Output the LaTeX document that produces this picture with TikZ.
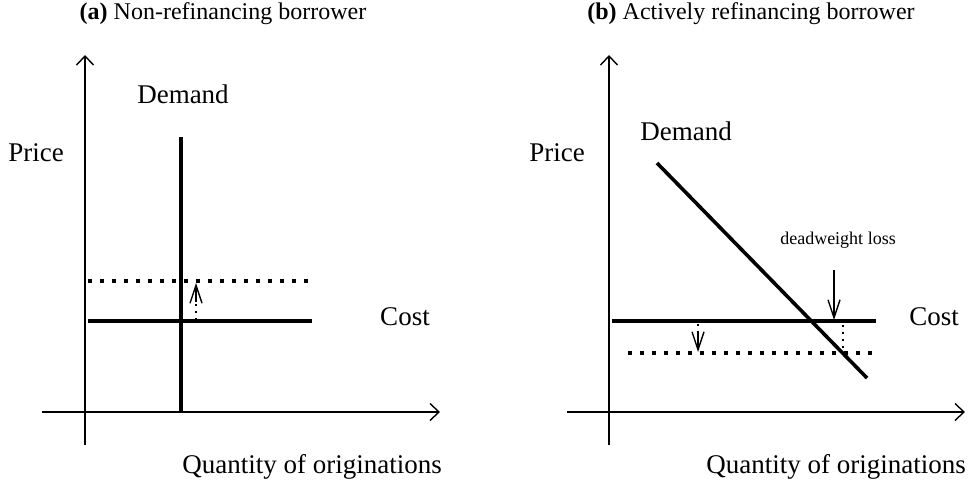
\documentclass[tikz,border=0pt]{standalone}
\usepackage{fontspec}
\setmainfont{Liberation Serif}
\usetikzlibrary{arrows.meta}
\begin{document}
\begin{tikzpicture}[x=1pt,y=-1pt,
  axis/.style={line width=1.4pt,-{Straight Barb[length=9pt,width=17pt,line width=1.4pt]}},
  curve/.style={line width=3.6pt},
  dotline/.style={line width=3.4pt,dash pattern=on 4pt off 8pt},
  shaft/.style={line width=1.6pt,dash pattern=on 2pt off 5pt},
  tipline/.style={line width=1.4pt,-{Straight Barb[length=18pt,width=12pt,line width=1.4pt]}},
  lab/.style={font=\fontsize{27}{30}\selectfont,inner sep=0pt},
  ttl/.style={font=\fontsize{24}{28}\selectfont,inner sep=0pt},
  small/.style={font=\fontsize{18}{21}\selectfont,inner sep=0pt}]
\useasboundingbox (0,0) rectangle (976,491);
% ---- panel (a)
\node[ttl] (ta) at (223,14) {\textbf{(a)} Non-refinancing borrower};
\coordinate (ay0) at (85,445); \coordinate (ay1) at (85,55);
\coordinate (ax0) at (42,412); \coordinate (ax1) at (440,412);
\draw[axis] (ay0) -- (ay1);
\draw[axis] (ax0) -- (ax1);
\coordinate (ad0) at (181,412); \coordinate (ad1) at (181,137);
\draw[curve] (ad0) -- (ad1);
\coordinate (ac0) at (88,321); \coordinate (ac1) at (312,321);
\draw[curve] (ac0) -- (ac1);
\coordinate (an0) at (88,281); \coordinate (an1) at (312,281);
\draw[dotline] (an0) -- (an1);
\coordinate (aa0) at (196,320); \coordinate (aa1) at (196,302); \coordinate (aa2) at (196,283);
\draw[shaft] (aa0) -- (aa1);
\draw[tipline] (aa1) -- (aa2);
\node[lab] (dema) at (183,94) {Demand};
\node[lab] (pra) at (36,153) {Price};
\node[lab] (costa) at (405,317) {Cost};
\node[lab] (qa) at (312,467) {Quantity of originations};
% ---- panel (b)
\node[ttl] (tb) at (751,14) {\textbf{(b)} Actively refinancing borrower};
\coordinate (by0) at (609,445); \coordinate (by1) at (609,55);
\coordinate (bx0) at (567,412); \coordinate (bx1) at (965,412);
\draw[axis] (by0) -- (by1);
\draw[axis] (bx0) -- (bx1);
\coordinate (bd0) at (657,163); \coordinate (bd1) at (867,378);
\draw[curve] (bd0) -- (bd1);
\coordinate (bc0) at (612,321); \coordinate (bc1) at (876,321);
\draw[curve] (bc0) -- (bc1);
\coordinate (bn0) at (628,353); \coordinate (bn1) at (876,353);
\draw[dotline] (bn0) -- (bn1);
\coordinate (ba0) at (698,324); \coordinate (ba1) at (698,333); \coordinate (ba2) at (698,352);
\draw[shaft] (ba0) -- (ba1);
\draw[tipline] (ba1) -- (ba2);
\coordinate (dw0) at (834,270); \coordinate (dw1) at (834,320);
\draw[tipline] (dw0) -- (dw1);
\coordinate (dv0) at (843,325); \coordinate (dv1) at (843,351);
\draw[shaft] (dv0) -- (dv1);
\node[small] (dwl) at (838,240) {deadweight loss};
\node[lab] (demb) at (686,131) {Demand};
\node[lab] (prb) at (557,153) {Price};
\node[lab] (costb) at (934,317) {Cost};
\node[lab] (qb) at (836,467) {Quantity of originations};
\end{tikzpicture}
\end{document}
